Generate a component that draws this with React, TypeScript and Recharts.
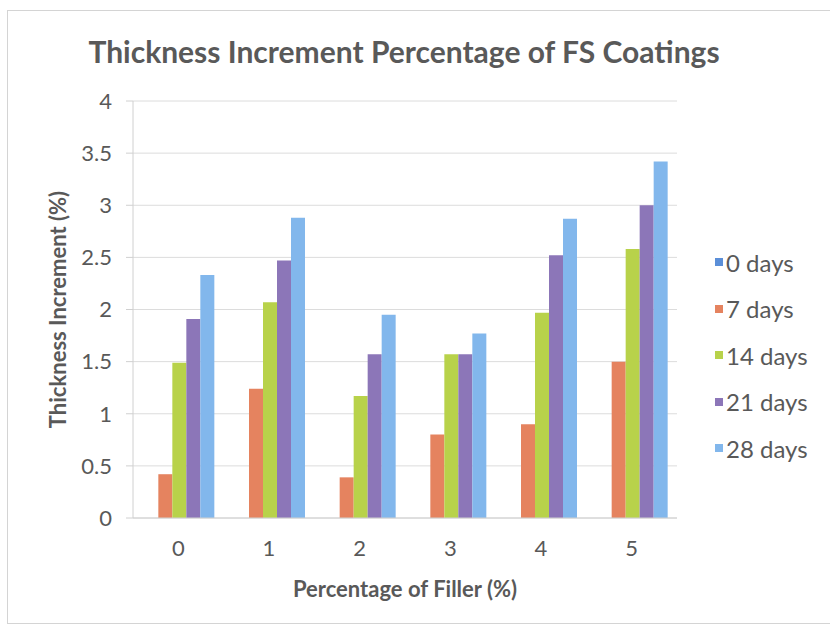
import React from 'react';
import { BarChart, Bar, XAxis, YAxis, CartesianGrid, Legend } from 'recharts';

const fillerPct = ['0', '1', '2', '3', '4', '5'];
const days0 = [0, 0, 0, 0, 0, 0];
const days7 = [0.42, 1.24, 0.39, 0.8, 0.9, 1.5];
const days14 = [1.49, 2.07, 1.17, 1.57, 1.97, 2.58];
const days21 = [1.91, 2.47, 1.57, 1.57, 2.52, 3.0];
const days28 = [2.33, 2.88, 1.95, 1.77, 2.87, 3.42];
const yTicks = [0, 0.5, 1, 1.5, 2, 2.5, 3, 3.5, 4];

const series = [
  { key: '0 days', values: days0, color: '#5b8fd8' },
  { key: '7 days', values: days7, color: '#e5835f' },
  { key: '14 days', values: days14, color: '#b8d24a' },
  { key: '21 days', values: days21, color: '#8c76b8' },
  { key: '28 days', values: days28, color: '#82b7ec' },
];

const data = fillerPct.map((name, i) => {
  const row: Record<string, string | number> = { name };
  series.forEach((s) => {
    row[s.key] = s.values[i];
  });
  return row;
});

const FONT = 'Lato, "DejaVu Sans", sans-serif';
const TEXT = '#595959';

// legend drawn in series order (recharts would sort it by name)
const LegendList = () => (
  <ul style={{ listStyle: 'none', margin: 0, padding: 0, fontFamily: FONT }}>
    {series.map((s) => (
      <li
        key={s.key}
        style={{ height: 46.5, display: 'flex', alignItems: 'center', fontSize: 24, color: TEXT }}
      >
        <span style={{ width: 8, height: 8, background: s.color, marginRight: 3, display: 'inline-block' }} />
        {s.key}
      </li>
    ))}
  </ul>
);

const App: React.FC = () => {
  return (
    <div
      style={{
        position: 'absolute',
        left: 0,
        top: 0,
        width: 830,
        height: 630,
        background: '#fff',
        overflow: 'hidden',
      }}
    >
      <div
        style={{
          position: 'absolute',
          left: 7,
          top: 10,
          width: 840,
          height: 612,
          border: '1px solid #d4d4d4',
          borderRight: 'none',
        }}
      />
      <div
        style={{
          position: 'absolute',
          left: 0,
          width: 808,
          top: 33,
          textAlign: 'center',
          fontFamily: FONT,
          fontWeight: 700,
          fontSize: 30,
          color: TEXT,
        }}
      >
        Thickness Increment Percentage of FS Coatings
      </div>
      <div style={{ position: 'absolute', left: 0, top: 0 }}>
        <BarChart
          width={830}
          height={630}
          data={data}
          margin={{ top: 101, right: 153, left: 0, bottom: 27 }}
          barGap={0}
          barCategoryGap="12.5%"
        >
          <CartesianGrid vertical={false} stroke="#dcdcdc" />
          <XAxis
            dataKey="name"
            height={85}
            stroke="#d0d0d0"
            tickLine={false}
            tickMargin={16}
            tick={{ fontSize: 22, fill: TEXT, fontFamily: FONT }}
            label={{
              value: 'Percentage of Filler (%)',
              position: 'insideBottom',
              offset: 6,
              style: { fontSize: 22, fontWeight: 700, fill: TEXT, fontFamily: FONT },
            }}
          />
          <YAxis
            width={133}
            domain={[0, 4]}
            ticks={yTicks}
            interval={0}
            stroke="#d0d0d0"
            tickSize={7}
            tickMargin={14}
            tick={{ fontSize: 22, fill: TEXT, fontFamily: FONT }}
            label={{
              value: 'Thickness Increment (%)',
              angle: -90,
              position: 'center',
              dx: -8,
              style: { fontSize: 22, fontWeight: 700, fill: TEXT, fontFamily: FONT, textAnchor: 'middle' },
            }}
          />
          <Legend
            layout="horizontal"
            verticalAlign="middle"
            align="center"
            content={<LegendList />}
            wrapperStyle={{ position: 'absolute', left: 715, top: 239, width: 110 }}
          />
          {series.map((s) => (
            <Bar key={s.key} dataKey={s.key} fill={s.color} isAnimationActive={false} />
          ))}
        </BarChart>
      </div>
    </div>
  );
};

export default App;
